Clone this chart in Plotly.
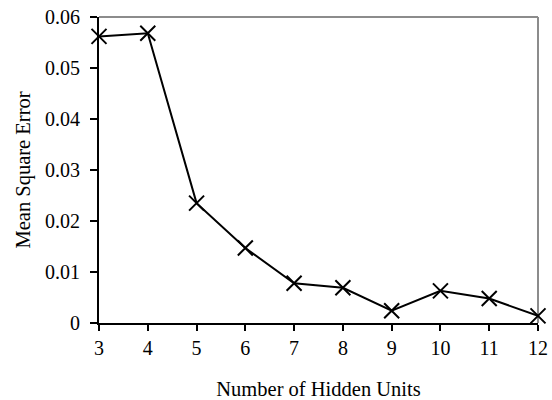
import plotly.graph_objects as go

hidden_units = [3, 4, 5, 6, 7, 8, 9, 10, 11, 12]
mse = [0.0562, 0.0568, 0.0235, 0.0147, 0.0078, 0.0069, 0.0024, 0.0063, 0.0048, 0.0014]
y_ticks = [0, 0.01, 0.02, 0.03, 0.04, 0.05, 0.06]
y_tick_labels = ["0", "0.01", "0.02", "0.03", "0.04", "0.05", "0.06"]

font_family = "Liberation Serif, Times New Roman, serif"

fig = go.Figure()
fig.add_trace(go.Scatter(
    x=hidden_units, y=mse, mode="lines+markers",
    line=dict(color="black", width=2),
    marker=dict(symbol="x-thin", size=15, line=dict(color="black", width=2)),
    cliponaxis=False, showlegend=False, hoverinfo="skip",
))

fig.update_layout(
    width=552, height=400,
    margin=dict(l=99, r=14, t=17, b=77),
    paper_bgcolor="white", plot_bgcolor="white",
    font=dict(family=font_family, size=20, color="black"),
    xaxis=dict(
        range=[3, 12], tickmode="array", tickvals=hidden_units,
        ticks="outside", ticklen=6, tickwidth=1.5, tickcolor="black",
        showline=True, linecolor="black", linewidth=2,
        showgrid=False, zeroline=False, automargin=False,
        title=dict(text="Number of Hidden Units", standoff=25, font=dict(size=20.5)),
    ),
    yaxis=dict(
        range=[0, 0.06], tickmode="array", tickvals=y_ticks, ticktext=y_tick_labels,
        ticks="outside", ticklen=7, tickwidth=1.5, tickcolor="black",
        showline=True, linecolor="black", linewidth=2,
        showgrid=False, zeroline=False, ticklabelstandoff=6, automargin=False,
        title=dict(text="Mean Square Error", standoff=9, font=dict(size=20.5)),
    ),
    shapes=[
        dict(type="line", xref="paper", yref="paper", x0=0, x1=1, y0=1, y1=1,
             line=dict(color="#8c8c8c", width=2), layer="below"),
        dict(type="line", xref="paper", yref="paper", x0=1, x1=1, y0=0, y1=1,
             line=dict(color="#8c8c8c", width=2), layer="below"),
    ],
)

fig.write_html(
    "out.html",
    config={"displayModeBar": False},
    post_script="document.body.style.margin='0';document.body.style.overflow='hidden';",
)
